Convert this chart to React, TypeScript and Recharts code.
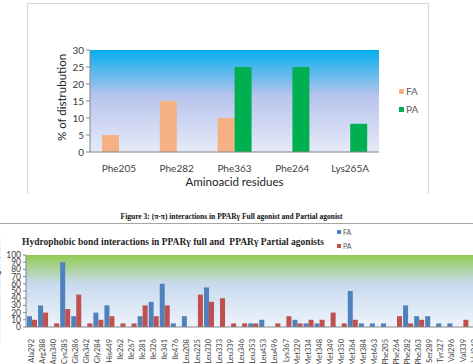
import React from 'react';
import { BarChart, Bar, XAxis, YAxis, CartesianGrid } from 'recharts';

// pi-pi interactions
const piResidues = ['Phe205', 'Phe282', 'Phe363', 'Phe264', 'Lys265A'];
const piFA = [5, 15, 10, 0, 0];
const piPA = [0, 0, 25, 25, 8.3];

// hydrophobic interactions
const hydroResidues = [
    'Ala292', 'Arg288', 'Asn340', 'Cys285', 'Gln286', 'Gln342', 'Gly284', 'His449',
    'Ile262', 'Ile267', 'Ile281', 'Ile326', 'Ile341', 'Ile476', 'Leu208', 'Leu225',
    'Leu330', 'Leu333', 'Leu339', 'Leu346', 'Leu353', 'Leu453', 'Leu496', 'Lys367',
    'Met329', 'Met334', 'Met348', 'Met349', 'Met350', 'Met364', 'Met384', 'Met463',
    'Phe205', 'Phe264', 'Phe282', 'Phe363', 'Ser289', 'Tyr327', 'Val296', 'Val339', 'Val343',
];
const hydroFA = [
    15, 30, 0, 90, 15, 0, 20, 30,
    0, 0, 15, 35, 60, 5, 15, 0,
    55, 0, 0, 0, 5, 10, 0, 0,
    10, 5, 5, 0, 0, 50, 5, 5,
    5, 0, 30, 15, 15, 5, 5, 0, 0,
];
const hydroPA = [
    10, 20, 5, 25, 45, 5, 10, 15,
    5, 5, 30, 15, 30, 0, 0, 45,
    35, 40, 5, 5, 5, 0, 5, 15,
    5, 10, 10, 20, 5, 10, 0, 0,
    0, 15, 5, 10, 0, 0, 0, 10, 5,
];
const piTicks = [0, 5, 10, 15, 20, 25, 30];
const hydroTicks = [0, 10, 20, 30, 40, 50, 60, 70, 80, 90, 100];

const piData = piResidues.map((name, i) => ({ name, FA: piFA[i], PA: piPA[i] }));
const hydroData = hydroResidues.map((name, i) => ({ name, FA: hydroFA[i], PA: hydroPA[i] }));

const sans = 'Lato, "Open Sans", sans-serif';

const RotatedTick = (props: any) => {
    const { x, y, payload } = props;
    return (
        <text
            x={x + 2.6}
            y={y + 4}
            transform={`rotate(-90, ${x + 2.6}, ${y + 4})`}
            textAnchor="end"
            fontSize={7.5}
            fontFamily={sans}
            fill="#404040"
        >
            {payload.value}
        </text>
    );
};

const legendItem = (color: string, label: string, left: number, top: number, size: number, font: number) => (
    <div style={{ position: 'absolute', left, top, display: 'flex', alignItems: 'center', fontFamily: sans, fontSize: font, color: '#595959' }}>
        <span style={{ width: size, height: size, background: color, marginRight: 2, display: 'inline-block' }} />
        {label}
    </div>
);

export default function App() {
    return (
        <div style={{ position: 'absolute', left: 0, top: 0, width: 473, height: 364, overflow: 'hidden', background: '#fff' }}>
            <svg width={0} height={0} style={{ position: 'absolute' }}>
                <defs>
                    <linearGradient id="piBg" x1="0" y1="0" x2="0" y2="1">
                        <stop offset="0%" stopColor="#05AEEF" />
                        <stop offset="45%" stopColor="#B7C4EC" />
                        <stop offset="100%" stopColor="#E6EAF8" />
                    </linearGradient>
                    <linearGradient id="hydroBg" x1="0" y1="0" x2="0" y2="1">
                        <stop offset="0%" stopColor="#92CC52" />
                        <stop offset="40%" stopColor="#C8DAEF" />
                        <stop offset="100%" stopColor="#EEF3FA" />
                    </linearGradient>
                </defs>
            </svg>

            {/* top chart frame */}
            <div style={{ position: 'absolute', left: 27, top: 3, width: 400, height: 190, borderTop: '1px solid #D9D9D9', borderLeft: '1px solid #D9D9D9', borderRight: '1px solid #D9D9D9' }}>
                <BarChart width={400} height={190} data={piData} margin={{ top: 46, right: 49, left: 0, bottom: 12 }} barGap={0}>
                    <CartesianGrid horizontal={false} vertical={false} stroke="none" fill="url(#piBg)" />
                    <XAxis
                        dataKey="name"
                        stroke="#868686"
                        tickLine={false}
                        height={30}
                        tick={{ fontSize: 10, fontFamily: sans, fill: '#404040' }}
                        tickMargin={7}
                        label={{ value: 'Aminoacid residues', position: 'insideBottom', offset: -4, fontSize: 11.5, fontFamily: sans, fill: '#222' }}
                    />
                    <YAxis
                        width={62}
                        domain={[0, 30]}
                        ticks={piTicks}
                        stroke="#868686"
                        tickSize={4}
                        tick={{ fontSize: 10, fontFamily: sans, fill: '#404040' }}
                        label={{ value: '% of distrubution', angle: -90, position: 'insideLeft', offset: 34, dy: 40, fontSize: 11.5, fontFamily: sans, fill: '#222' }}
                    />
                    <Bar dataKey="FA" fill="#F5B183" barSize={17} isAnimationActive={false} />
                    <Bar dataKey="PA" fill="#00B050" barSize={17} isAnimationActive={false} />
                </BarChart>
                {legendItem('#F5B183', 'FA', 371, 81, 5, 10)}
                {legendItem('#00B050', 'PA', 371, 99, 5, 10)}
            </div>

            <div style={{ position: 'absolute', left: 0, width: 473, top: 212, textAlign: 'center', fontFamily: '"Liberation Serif", serif', fontWeight: 'bold', fontSize: 7.5, color: '#111', paddingRight: 10, boxSizing: 'border-box' }}>
                Figure 3: (π-π) interactions in PPARγ Full agonist and Partial agonist
            </div>
            <div style={{ position: 'absolute', left: 0, top: 223, width: 473, height: 1, background: '#A6A6A6' }} />

            {/* bottom chart */}
            <div style={{ position: 'absolute', left: 0, top: 226, width: 490, height: 150 }}>
                <BarChart width={490} height={150} data={hydroData} margin={{ top: 29, right: 10.5, left: 0, bottom: 10 }} barGap={0}>
                    <CartesianGrid horizontal={false} vertical={false} stroke="none" fill="url(#hydroBg)" />
                    <XAxis
                        dataKey="name"
                        stroke="#868686"
                        tickLine={false}
                        interval={0}
                        height={39}
                        tick={<RotatedTick />}
                        label={{ value: 'Amino acid residues', position: 'insideBottom', offset: -8, dx: 5, fontSize: 8, fontWeight: 'bold', fontFamily: sans, fill: '#222' }}
                    />
                    <YAxis
                        width={26}
                        domain={[0, 100]}
                        ticks={hydroTicks}
                        interval={0}
                        stroke="#868686"
                        tickSize={3}
                        tick={{ fontSize: 8.5, fontFamily: sans, fill: '#404040' }}
                    />
                    <Bar dataKey="FA" fill="#4F81BD" barSize={5} isAnimationActive={false} />
                    <Bar dataKey="PA" fill="#C0504D" barSize={5} isAnimationActive={false} />
                </BarChart>
            </div>
            <div style={{ position: 'absolute', left: 22, top: 237, whiteSpace: 'pre', fontFamily: '"Liberation Serif", serif', fontWeight: 'bold', fontSize: 9.5, color: '#1F1F1F' }}>
                {'Hydrophobic bond interactions in PPARγ full and  PPARγ Partial agonists'}
            </div>
            {legendItem('#4F81BD', 'FA', 337, 228, 4, 7)}
            {legendItem('#C0504D', 'PA', 337, 242, 4, 7)}
            {/* axis title sits mostly past the left edge */}
            <div style={{ position: 'absolute', left: -66, top: 286, width: 126, textAlign: 'center', transform: 'rotate(-90deg)', fontFamily: sans, fontWeight: 'bold', fontSize: 7, color: '#333', whiteSpace: 'nowrap' }}>
                % of interaction among FA and PA
            </div>
        </div>
    );
}
